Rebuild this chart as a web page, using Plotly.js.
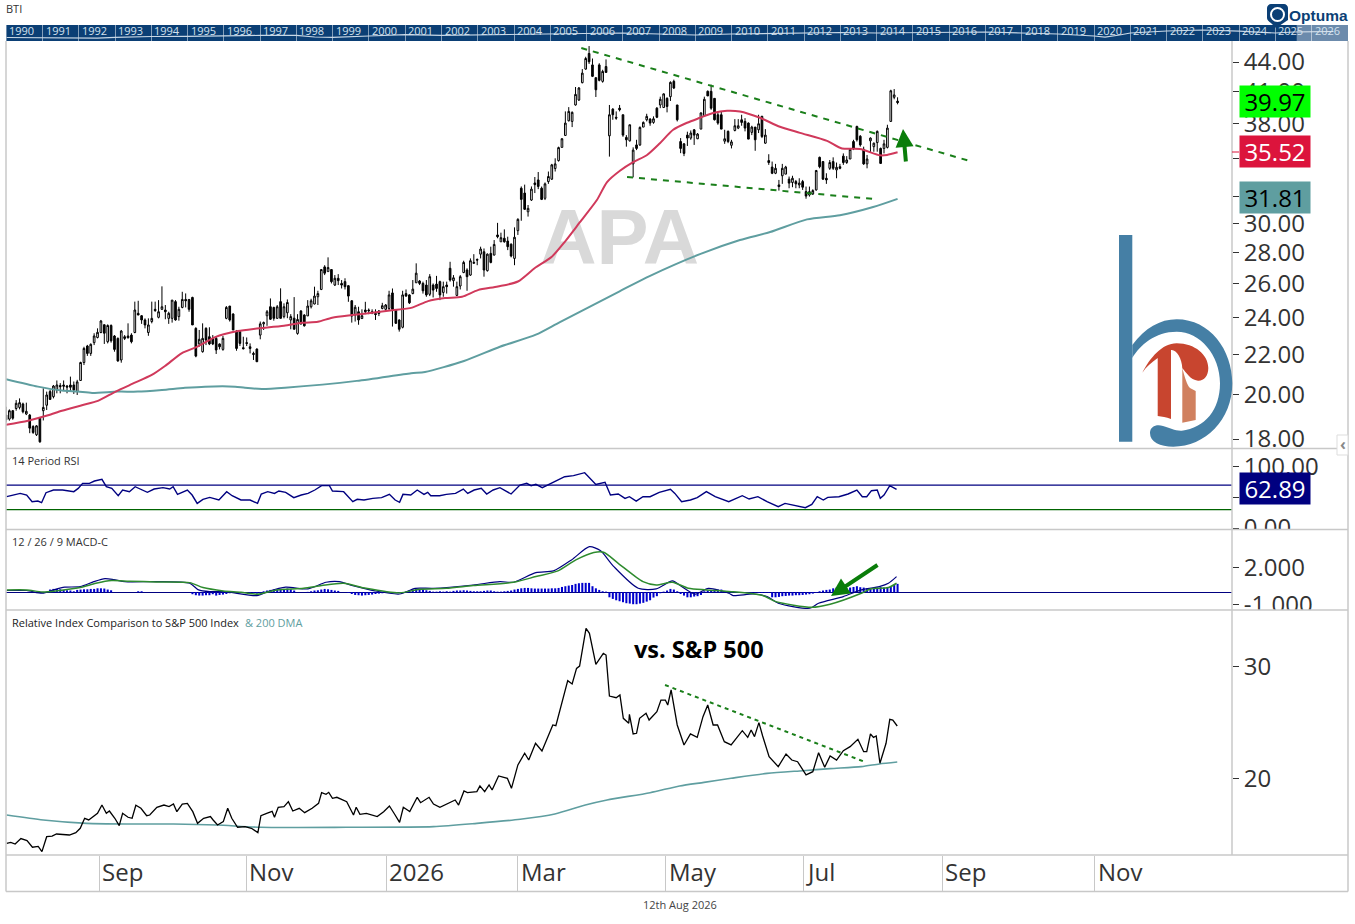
<!DOCTYPE html>
<html>
<head>
<meta charset="utf-8">
<script src="https://cdn.plot.ly/plotly-3.0.1.min.js"></script>
<style>body { margin: 0; background: #fff; }</style>
</head>
<body>
<div id="myPlot" style="width:1355px;height:924px"></div>
<script>
const W = 1355, H = 924;

// daily bars, oldest first
const highs = [
19.43,19.31,19.28,19.74,19.82,19.62,19.62,19.1,18.6,18.6,
18.95,20.3,20.14,20.22,20.46,20.68,20.55,20.68,20.46,20.87,
20.63,20.71,21.62,22.4,22.5,22.58,23.13,23.4,23.87,23.62,
23.62,23.62,23.03,22.9,23.31,23.03,23.68,23.13,24.93,24.98,
24.15,23.96,23.96,24.93,24.93,25.02,25.85,24.73,24.34,25.02,
25.02,24.63,25.52,25.42,25.06,25.22,23.46,23.31,23.68,23.46,
23.46,23.03,22.94,22.58,22.98,24.67,24.67,24.25,23.31,23.22,
22.94,22.9,22.58,22.14,22.31,23.78,23.78,24.44,25.12,24.63,
24.73,25.73,24.83,25.06,24.2,25.2,24.2,24.44,24.2,25.02,
25.1,25.83,25.58,26.92,27.18,27.69,26.92,26.55,26.61,26.24,
26.35,25.93,25.02,24.73,24.63,24.48,24.92,24.53,24.48,24.48,
24.44,24.86,24.79,25.58,25.72,24.48,23.9,25.58,25.66,25.37,
26.24,27.3,26.24,26.14,26.24,26.61,26.03,26.5,26.2,26.14,
26.14,27.4,26.55,26.14,26.55,27.47,26.98,27.62,27.9,27.62,
28.4,28.28,27.95,28.4,28.85,30.05,29.36,29.59,29.08,28.62,
29.73,30.38,32.76,32.9,31.35,32.76,33.5,33.9,32.75,33.07,
33.94,34.56,35.02,36.0,36.74,39.14,39.54,39.14,41.47,41.47,
43.27,44.55,45.7,44.37,42.4,43.87,43.2,44.27,39.74,39.44,
39.14,39.74,38.83,37.0,37.92,35.94,36.59,37.77,38.22,38.92,
38.52,38.68,39.54,40.53,40.85,40.47,42.03,42.2,39.74,36.74,
36.3,37.3,37.41,37.53,37.18,39.05,40.53,41.13,41.7,40.37,
39.14,39.14,37.47,37.41,36.59,38.43,38.43,38.83,38.52,38.13,
37.83,37.71,38.83,38.74,37.53,35.36,34.75,34.56,33.27,34.56,
34.4,33.54,33.6,33.27,33.4,33.27,32.75,32.75,32.54,34.07,
35.16,34.75,33.8,34.88,35.1,34.67,34.56,35.43,35.2,35.85,
36.59,37.83,37.0,36.0,35.3,36.8,36.35,37.41,35.92,36.59,
37.92,41.2,41.27,40.47];
const lows = [
18.72,18.8,18.84,19.25,19.31,19.13,19.05,18.25,18.22,18.13,
17.84,18.81,19.28,19.77,19.82,20.06,20.06,20.19,20.06,20.14,
20.03,19.98,20.68,21.45,21.92,21.92,22.49,22.85,23.13,22.55,
22.58,22.62,22.14,21.62,21.57,22.76,22.85,22.58,23.13,24.15,
23.65,23.4,22.99,23.68,24.34,23.96,24.44,23.91,23.65,23.72,
23.83,23.83,24.54,24.59,24.34,23.59,21.85,22.4,22.09,22.49,
22.49,22.49,22.02,22.26,22.19,23.91,23.78,23.31,22.19,22.44,
22.26,22.44,22.05,21.71,21.62,22.8,23.31,23.54,23.87,23.83,
23.96,23.96,23.96,23.97,23.35,23.35,23.05,23.6,23.5,24.1,
24.53,24.77,24.73,25.62,26.55,26.77,26.03,25.87,25.93,25.72,
25.66,24.92,23.72,23.78,23.6,23.93,24.2,24.2,24.2,23.87,
24.09,24.48,24.34,24.44,23.5,23.65,23.22,23.4,25.22,24.79,
25.37,26.07,25.93,25.41,25.22,25.26,25.18,25.52,25.02,25.22,
25.41,26.14,25.83,25.26,25.66,26.67,25.58,26.5,27.27,27.18,
27.62,26.45,26.77,27.3,27.82,28.97,28.73,28.67,28.17,27.69,
27.18,29.2,30.2,30.98,30.5,31.65,32.25,32.55,31.72,31.72,
32.96,33.27,33.94,34.75,35.92,36.94,38.22,37.71,39.68,40.12,
41.83,43.2,43.8,42.46,40.5,42.03,41.9,42.93,35.16,38.37,
38.37,39.14,36.85,36.0,36.44,33.47,35.71,36.06,37.71,38.22,
37.83,38.01,38.52,39.44,39.5,39.05,40.12,41.27,38.22,35.45,
35.2,36.06,36.59,36.15,36.65,37.53,38.74,40.6,39.29,38.31,
37.92,37.53,36.24,36.3,35.85,37.33,37.53,37.83,37.33,36.65,
37.0,35.65,37.18,36.74,36.24,34.48,33.73,33.73,32.44,32.96,
33.73,32.62,32.7,32.62,32.62,32.49,31.82,31.98,32.1,32.44,
34.2,33.27,32.96,34.07,34.07,33.4,34.12,34.48,34.56,34.96,
35.71,36.44,36.0,34.48,34.2,35.49,35.57,35.57,34.56,35.43,
35.85,38.22,40.28,39.8];
const opens = [
19.05,18.87,19.25,19.35,19.4,19.56,19.1,19.05,18.54,18.18,
18.91,19.25,19.5,20.14,19.9,20.22,20.43,20.46,20.41,20.46,
20.46,20.14,20.68,21.58,22.44,22.05,22.62,22.9,23.17,23.6,
22.67,23.56,22.98,22.85,21.71,22.94,22.98,23.03,23.17,24.25,
24.11,23.87,23.17,23.78,24.48,24.02,24.48,24.44,23.96,23.96,
24.93,24.06,24.59,25.06,25.06,25.18,23.4,22.55,22.14,23.4,
22.94,22.85,22.85,22.55,22.26,23.96,24.67,24.21,23.22,23.22,
22.35,22.62,22.4,22.05,22.28,23.03,23.65,24.11,24.63,24.59,
23.96,24.93,24.06,24.28,23.87,23.97,23.12,24.38,24.15,24.1,
24.63,24.79,25.22,25.66,27.07,26.77,26.9,25.93,26.35,26.03,
26.14,25.89,24.98,24.15,24.34,23.95,24.44,24.44,24.34,24.24,
24.38,24.53,24.48,24.53,25.45,24.44,23.87,23.46,25.41,25.33,
25.41,26.07,26.18,26.03,25.93,25.37,25.93,25.99,26.14,25.48,
25.93,26.98,26.2,25.3,25.87,26.71,26.87,26.55,27.3,27.55,
27.9,28.06,26.83,27.95,27.84,29.2,28.73,28.97,28.78,28.57,
27.62,29.5,32.62,32.25,30.85,31.72,33.03,33.27,32.62,31.85,
33.14,33.33,34.18,34.83,35.94,36.97,38.28,38.22,39.74,40.21,
41.9,43.27,44.9,43.7,42.4,43.7,42.03,43.53,36.94,39.35,
38.6,39.44,38.83,36.8,36.5,34.56,36.15,36.15,37.71,38.37,
38.43,38.13,39.44,39.74,39.5,40.37,40.53,42.03,39.74,36.44,
36.24,37.0,36.74,37.47,36.68,37.53,38.74,41.05,41.05,40.37,
38.83,38.83,36.47,37.33,36.12,37.41,37.62,38.37,38.22,38.07,
37.24,37.71,37.47,38.68,36.3,34.83,34.3,33.8,32.88,33.6,
33.73,33.33,33.07,33.14,32.88,33.14,32.36,32.1,32.18,32.49,
35.1,34.75,33.4,34.2,34.75,34.07,34.33,35.2,34.67,34.96,
36.44,37.77,36.9,35.77,34.56,36.5,36.0,36.35,35.85,35.85,
35.94,38.22,40.47,40.1];
const closes = [
18.84,19.25,18.91,19.59,19.62,19.2,19.22,18.47,18.28,18.57,
17.88,19.4,19.98,19.77,20.41,20.46,20.38,20.4,20.36,20.35,
20.22,20.61,21.58,22.31,22.05,22.53,22.98,23.18,23.81,23.13,
23.56,22.72,22.26,21.66,23.25,22.85,22.88,22.67,24.44,24.15,
23.87,23.59,23.59,23.96,24.4,24.34,24.63,24.34,24.25,25.02,
23.87,24.48,25.06,24.98,24.48,23.59,21.91,22.8,22.85,22.76,
22.55,22.55,22.23,22.4,22.85,24.59,23.87,23.31,22.31,22.58,
22.3,22.58,22.31,22.0,21.62,23.65,23.72,24.34,23.91,23.96,
24.63,23.96,24.63,24.88,24.06,23.35,23.9,23.65,23.54,24.67,
24.98,25.26,25.41,26.9,26.67,27.03,26.14,26.35,26.2,25.93,
25.83,25.26,24.09,24.6,23.87,24.11,24.34,24.4,24.28,24.18,
24.24,24.69,24.73,25.33,24.48,23.68,23.35,25.33,25.26,24.86,
25.68,26.67,26.03,25.58,25.33,26.45,25.62,25.72,25.33,25.83,
25.83,26.24,26.38,25.83,26.45,27.36,26.45,27.47,27.36,27.51,
28.24,26.87,27.9,27.36,28.55,29.08,29.01,28.73,28.4,27.78,
29.04,30.3,31.77,31.03,31.1,32.55,32.9,32.76,31.77,32.96,
33.54,34.48,34.56,35.92,36.68,38.07,39.14,39.05,40.75,41.37,
42.86,44.37,44.03,42.53,41.2,42.13,43.03,42.93,38.83,38.83,
38.52,39.29,37.0,36.59,37.92,35.71,35.85,37.68,38.13,38.68,
38.07,38.46,38.6,40.28,40.8,39.6,41.93,41.37,38.37,35.85,
35.43,36.74,37.18,37.0,37.09,39.0,40.28,40.6,39.44,38.37,
38.07,37.53,36.68,36.44,36.41,37.83,37.83,38.13,37.62,36.65,
37.71,36.59,38.01,36.88,37.0,34.67,33.8,34.2,32.75,34.2,
34.3,33.02,33.4,32.96,33.02,32.7,32.02,32.36,32.44,34.02,
34.33,33.33,33.27,34.67,34.2,34.28,34.2,34.67,34.88,35.77,
35.85,36.59,36.15,34.56,34.96,36.74,36.3,37.33,34.6,36.24,
37.62,41.1,40.7,39.97];

// moving averages on price (bar number, value)
const ma50Bars = [0,6.5,12.4,16.5,22.4,27.1,32.2,37.2,43,46.9,51.9,56.3,61.7,68.4,73.5,82,87.3,92,96.2,102.1,108,113.9,119.8,124.5,129.5,134.5,139.2,145.1,151,156,161,164.9,169.3,174.3,177.3,181.1,185,189.1,192.9,196.8,200.9,204.7,208.6,212.7,216.5,222.4,228.3,234.2,242.2,246.6,251.9,257.8,259.9,263];
const ma50Vals = [18.62,18.8,19.04,19.25,19.5,19.7,20.13,20.51,20.95,21.4,22.07,22.39,22.92,23.25,23.38,23.54,23.71,23.77,24.0,24.15,24.28,24.42,24.58,24.96,25.14,25.22,25.62,25.84,26.15,27.0,27.73,28.75,30.1,31.72,33.1,34.0,34.7,35.3,36.3,37.47,38.1,38.55,39.0,39.2,39.13,38.55,37.74,37.2,36.5,35.85,35.8,35.27,35.3,35.52];
const ma200Bars = [0,9.4,16.5,21.2,25.4,33,38.9,46,52.8,58.7,67.6,70.5,75.5,82.3,103.5,119.5,123.6,135.1,145.7,156.3,163.4,181,190,204.7,216.5,225.4,236.3,246,255.8,263];
const ma200Vals = [20.74,20.38,20.19,20.14,20.08,20.14,20.14,20.22,20.32,20.38,20.38,20.32,20.27,20.33,20.66,21.04,21.1,21.66,22.4,23.05,23.75,25.55,26.5,27.9,28.85,29.4,30.3,30.6,31.2,31.81];

// trend lines drawn on the chart
const priceTopBars = [169.7,284.4], priceTopVals = [45.49,34.79];
const priceLowBars = [183.2,255.9], priceLowVals = [33.5,31.8];
const relTopBars = [194.4,253.5], relTopVals = [28.37,21.5];

// 14 period RSI
const rsiBars = [0.2,2.2,4.2,6.1,7.7,9.4,10.5,11.8,14,16.7,20,21.3,22.6,24.6,26.1,28.3,29.6,31.2,33.1,34.4,36.4,38.1,40.4,41.7,43.7,46.3,48.3,49.3,50.6,53.5,54.9,56.4,58.1,60.1,62.8,65.1,66.7,69.3,72,74.2,75.3,77.2,79.2,80.5,82.5,84.9,87.1,89.1,91.1,93.1,95.4,96.3,99.6,102.3,103.6,105.6,108.2,110.8,113.1,114.8,116.1,117.1,119.4,121.3,123.3,124.4,125.3,127.9,129.9,132.6,134.9,136.2,138.1,140.2,141.8,143.7,145.7,149,151.6,153.6,154.9,156.3,158.2,161.5,164.8,167.4,170.7,174,176.7,178.3,180.6,182.6,183.9,185.9,187.9,190,192.7,196,197.3,199.3,201.9,203.9,206.6,209.2,213.2,217.2,219.2,221.8,224.5,227.8,229.8,235.8,237.7,239.3,241.1,242.4,245.7,248.4,251,252.6,253.9,255.3,257,257.9,259,260.7,262.7];
const rsiVals = [51.1,53.8,56.5,53.8,43,44,41.3,57.6,62,62,59.3,64.7,72.9,72.9,76.7,79.4,67.4,64.7,52.7,62,59.3,67.4,62,58.2,63.6,65.8,63.6,67.4,54.9,62,53.8,40.2,46.8,50,45.7,59.3,52.7,45.7,45.7,40.2,55.5,59.3,56.5,60.4,58.2,49.5,53.8,56.5,62,69.1,69.1,60.4,59.3,43,46.8,45.7,48.4,49.5,54.9,45.7,41.9,54.9,53.8,62,54.9,58.2,52.7,52.7,54.9,56.5,63.6,56.5,62,64.7,55.5,62,65.8,55.5,70.1,72.9,69.1,71.2,65.8,74.5,83.7,85.4,90.3,71.2,74.5,53.8,55.5,48.4,51.1,44,51.1,51.1,58.2,63.1,56.5,43,45.7,49.5,59.3,51.1,43,52.7,47.3,51.1,43,34.8,40.2,33.2,38.6,51.1,45.7,50,51.1,55.5,62,51.1,51.1,60.9,62,48.4,53.8,69.1,62.89];

// 12 / 26 / 9 MACD
const macdBars = [0.2,6.1,10.7,14,17.3,21.9,25.9,29.2,31.8,35.1,44.3,54.2,56.8,60.1,64.7,74,77.2,82.5,89.1,94.4,98.3,102.3,108.8,116.1,120.7,126,137.8,145.7,149.7,156.3,161.5,166.8,172.1,175.3,179.3,186.5,191.8,196.6,199.3,203.3,207.2,213.2,214.5,220.5,224.5,227.8,237.1,239.7,247,252.3,257.6,260.3,262.7];
const macdVals = [0.14,0.14,-0.08,0.19,0.41,0.46,0.86,1.11,1.03,0.86,0.86,0.73,0.19,0.05,0.05,-0.27,0.05,0.41,0.27,0.81,0.86,0.54,0.11,-0.14,0.32,0.32,0.59,0.86,0.81,1.59,1.73,2.62,3.7,3.38,2.08,0.32,0.27,0.92,0.46,-0.16,0.32,-0.08,-0.27,-0.14,-0.35,-0.89,-1.3,-0.89,-0.35,0.19,0.46,0.73,1.27];
const signalBars = [0.2,6.1,10.7,14.7,21.9,26.5,31.2,36.4,44.3,54.2,58.1,64.1,69.3,74,79.9,87.8,93.1,99.6,106.2,116.1,122,129.9,137.8,149.7,156.3,162.8,168.1,173.4,176.3,180.6,187.9,191.8,196.6,201.3,206.6,213.9,223.2,227.1,237.7,243.1,252.3,255,260.3,262.7];
const signalVals = [0.19,0.19,0.03,0.11,0.38,0.73,0.95,0.89,0.84,0.78,0.38,0.11,0,-0.16,0.19,0.32,0.54,0.73,0.32,-0.05,0.24,0.32,0.54,0.81,1.27,1.73,2.62,3.22,3.24,2.35,0.86,0.59,0.81,0.32,0.19,0.05,-0.27,-0.76,-1.22,-0.97,-0.08,0.27,0.38,0.73];
const histVals = [
0,0,0,0,0,0,0,0,0,0,0,0,0,
0.22,0.27,0.27,0.24,0.19,0.16,0.14,0.08,0.19,0.22,0.24,0.24,0.27,0.27,0.32,0.32,0.3,0.22,0.16,
0,0,0,0,0,0,0,0.08,0.08,
0,0,0,0,0,0,0,0,0,0,0,0,0,0,
-0.16,-0.24,-0.27,-0.27,-0.24,-0.24,-0.16,-0.27,-0.22,-0.19,-0.14,-0.08,
0,0,0,0,0,-0.05,-0.08,-0.11,-0.05,
0.08,0.14,0.19,0.22,0.24,0.27,0.27,0.3,0.24,0.14,
0,0,0,0.03,0.08,0.14,0.16,0.22,0.27,0.24,0.19,0.14,0.11,
0,0,-0.05,-0.14,-0.22,-0.24,-0.27,-0.24,-0.22,-0.19,-0.14,-0.11,-0.08,-0.05,-0.05,-0.03,
-0.05,-0.05,0,0.05,0.14,0.22,0.27,0.24,0.22,0.16,0.11,0.05,
0.05,0.08,0.05,0.08,0.05,0.11,0.14,0.14,0.16,0.14,0.11,0.08,0.08,0.08,0.11,0.14,0.14,0.08,0.05,
0.05,0.08,0.11,0.14,0.22,0.27,0.32,0.35,0.35,0.32,0.3,0.3,0.3,0.3,0.3,0.32,0.32,0.35,
0.43,0.49,0.54,0.59,0.68,0.73,0.76,0.76,0.76,0.49,0.32,0.19,0.08,0.05,
-0.41,-0.54,-0.65,-0.73,-0.81,-0.89,-0.92,-0.97,-0.97,-0.92,-0.86,-0.76,-0.65,-0.43,-0.32,
-0.08,0.05,0.14,0.27,0.22,0.08,
-0.14,-0.27,-0.41,-0.41,-0.35,-0.32,-0.22,
0.08,0.14,0.16,0.22,0.22,0.22,0.11,0.05,0.03,
-0.03,-0.03,-0.03,-0.05,-0.05,-0.03,-0.03,-0.05,-0.05,-0.05,-0.05,
-0.41,-0.41,-0.38,-0.32,-0.3,-0.27,-0.27,-0.24,-0.24,-0.22,-0.19,-0.16,-0.11,-0.05,
0.08,0.14,0.19,0.22,0.32,0.38,0.38,0.38,0.32,0.38,0.43,0.49,0.41,0.38,0.32,0.27,0.32,0.38,0.41,0.38,0.43,0.49,0.59,0.68];

// relative comparison to S&P 500
const relBars = [0.2,1.4,2.7,4.4,6.2,7.8,9.5,10.6,12,13.6,14.9,18.7,20.6,21.9,23.2,24.4,27,28.3,29.6,30.5,32.1,33.4,34.4,36,37.2,38.3,39.8,41.5,42.4,44.5,46.6,48.1,49.4,50.4,52,53.5,55.1,56.5,58.3,60.3,61.1,62.4,64.1,65.4,66.6,68.3,70.5,72.4,74.3,75.2,76.9,78.5,79.2,80.3,82,83.3,84.6,86.5,88.1,90.3,92.2,93.1,94.4,95.2,96.3,97.6,100.5,102.5,103.3,104.4,106.3,109.5,111.4,113.1,114.6,116.1,117.2,119.1,121.3,122.3,124.8,126.1,128,130,132.5,133.5,135.1,136.1,138.9,139.8,141.2,142.5,143.4,145.3,147.9,149.1,151,153,154.2,156.2,158.1,161.3,162.2,165.7,167,168.3,169.2,171.1,172.1,174,176.2,177,178,180,181.1,182.1,183.7,183.9,185,186,186.9,188.8,189.7,192,193.2,194.5,195.2,196.2,198,200,201.9,203.9,205.6,207,208.6,209.9,211.9,213.9,215.9,217.2,218.8,219.8,220.8,222.1,223.2,225.1,227.8,230.1,231.8,233.5,236,238,239.7,241.5,243.1,245,247,249,251.3,253,253.9,255,255.9,256.7,257.8,259.6,260.7,261.6,262.9];
const relVals = [14.27,14.36,14.21,14.69,14.51,13.92,14,13.53,14.86,14.92,15.1,15.01,15.22,15.61,16.5,16.35,16.94,17.68,16.94,17.15,16.5,15.84,16.94,16.59,16.5,17.66,17.39,16.73,16.79,17.48,17.68,17.54,17.77,17.09,17.77,17.83,17.09,16.05,16.5,16.65,16.35,15.9,16.2,17.39,16.5,15.7,15.76,15.61,15.22,16.73,16.94,17.12,16.59,17.48,17.54,17.98,17.15,17.39,17,17.39,17.83,18.78,18.63,18.81,18.28,18.37,17.98,16.79,17.48,16.85,16.94,16.65,17.09,17.6,16.88,16.14,17.48,17.09,18.37,17.89,18.37,17.77,17.48,17.77,18.13,17.68,18.93,18.78,18.87,19.38,18.87,19.47,19.02,20.27,20.06,19.17,21.25,22.29,21.69,23.18,22.49,24.81,24.75,28.76,28.46,29.85,30.06,33.42,32.97,30.21,31.19,31.04,27.39,27.24,27.48,25.4,24.96,25.76,24.01,24.07,25.4,25.85,25.25,26,27.03,27.03,26.59,27.93,24.81,23.03,24.01,23.71,25.55,26.59,24.81,24.81,23.32,23.03,23.83,24.3,23.71,24.36,23.77,25.02,23.83,21.99,21.1,22.23,21.69,21.54,20.36,20.65,22.34,21.04,22.05,21.69,22.52,22.88,23.53,22.43,22.43,24.01,23.71,23.83,21.4,23.18,25.31,25.25,24.72];
const relMaBars = [0.2,11,23.8,36.6,49.4,62.2,75,100.5,126.1,138.9,151.7,161.9,170.9,177.3,190,198.7,205.9,213.9,224.5,235.1,243.1,252.3,257.6,262.9];
const relMaVals = [16.79,16.35,16.05,15.99,15.99,15.9,15.7,15.7,15.76,16.05,16.41,16.88,17.68,18.13,18.78,19.38,19.7,20.06,20.5,20.74,20.92,21.1,21.34,21.51];

// long history strip along the top
const stripYears = [1990,1991,1992,1993,1994,1995,1996,1997,1998,1999,2000,2001,2002,2003,2004,2005,2006,2007,2008,2009,2010,2011,2012,2013,2014,2015,2016,2017,2018,2019,2020,2021,2022,2023,2024,2025,2026];
const historyYears = [1990,1991,1992,1992.5,1993,1994,1995,1996,1996.5,1997,1998,1998.5,1999,2000,2001,2002,2003,2004,2005,2006,2007,2008,2009,2010,2011,2012,2013,2014,2015,2016,2017,2018,2019,2020,2020.3,2020.7,2021,2022,2023,2024,2025,2025.5,2026,2026.6];
const historyVals = [3.5,3.2,3.5,2.8,3.6,4.5,4.6,4.7,5.3,5.6,5.6,4,3.6,5,6.4,5.6,6,7,7.5,7.8,8,7,6,7,7.5,8,8.5,8,8.5,8.5,9,8,7,5,3.8,6,8,10,11,9.8,8,9,9.5,9.5];

// axis ticks, the labels left blank sit behind the value boxes
const priceTicks = [44,41,38,35,32,30,28,26,24,22,20,18];
const priceLabels = ['44.00','41.00','38.00','','','30.00','28.00','26.00','24.00','22.00','20.00','18.00'];
const rsiTicks = [100,50,0];
const rsiLabels = ['100.00','','0.00'];
const macdTicks = [2,-1];
const macdLabels = ['2.000','-1.000'];
const relTicks = [30,20];
const relLabels = ['30','20'];
const monthBars = [27.5,70.9,112.1,151,194.6,235.2,276.2,321.2];
const monthLabels = ['Sep','Nov','2026','Mar','May','Jul','Sep','Nov'];

// last values shown in the coloured boxes
const lastPrice = 39.97, lastMa50 = 35.52, lastMa200 = 31.81, lastRsi = 62.89;

const barNumbers = closes.map((c, i) => i);
const xRange = [0, 361.65];

// pixel helpers for the page furniture
const fx = x => x / W;
const fy = y => 1 - y / H;
const dom = (top, bottom) => [fy(bottom), fy(top)];
const GREEN = '#1a7f1a', TEAL = '#5f9ea0', RED = '#d0395b', NAVY = '#000080', FRAME = '#c8c8c8', INK = '#333333';
const FONT = '"Open Sans", sans-serif';

function lineTrace(x, y, xa, ya, color, width, dash, smooth) {
    const line = {color: color, width: width, dash: dash || 'solid'};
    if (smooth) { line.shape = 'spline'; line.smoothing = 0.7; }
    return {type: 'scatter', mode: 'lines', x: x, y: y, xaxis: xa, yaxis: ya, line: line, hoverinfo: 'skip'};
}

const traces = [
    {type: 'scatter', mode: 'text', x: [181], y: [28.57], text: ['APA'], xaxis: 'x', yaxis: 'y',
        textfont: {family: '"Liberation Sans", Arial, sans-serif', size: 78, color: '#d9d9d9', weight: 700},
        textposition: 'middle center', hoverinfo: 'skip'},
    {type: 'candlestick', x: barNumbers, open: opens, high: highs, low: lows, close: closes,
        xaxis: 'x', yaxis: 'y', whiskerwidth: 0,
        increasing: {line: {color: '#000000', width: 1}, fillcolor: '#ffffff'},
        decreasing: {line: {color: '#000000', width: 1}, fillcolor: '#000000'},
        hoverinfo: 'skip'},
    lineTrace(ma200Bars, ma200Vals, 'x', 'y', TEAL, 2, null, true),
    lineTrace(ma50Bars, ma50Vals, 'x', 'y', RED, 2, null, true),
    lineTrace(priceTopBars, priceTopVals, 'x', 'y', GREEN, 2, '6px,6px'),
    lineTrace(priceLowBars, priceLowVals, 'x', 'y', GREEN, 2, '6px,6px'),
    lineTrace(rsiBars, rsiVals, 'x2', 'y2', NAVY, 1.4),
    {type: 'bar', x: barNumbers, y: histVals, xaxis: 'x3', yaxis: 'y3', width: 0.6,
        marker: {color: '#0000cd', line: {width: 0}}, hoverinfo: 'skip'},
    lineTrace(macdBars, macdVals, 'x3', 'y3', NAVY, 1.2, null, true),
    lineTrace(signalBars, signalVals, 'x3', 'y3', '#2e8b2e', 1.5, null, true),
    lineTrace(relMaBars, relMaVals, 'x4', 'y4', TEAL, 1.6, null, true),
    lineTrace(relBars, relVals, 'x4', 'y4', '#000000', 1.3),
    lineTrace(relTopBars, relTopVals, 'x4', 'y4', GREEN, 2, '4px,4px'),
    lineTrace(historyYears, historyVals, 'x5', 'y5', '#c9d8e6', 1.2)
];

function plainX(extra) {
    return Object.assign({domain: [fx(6), fx(1232)], range: xRange, showgrid: false, zeroline: false,
        showticklabels: false, ticks: '', fixedrange: true}, extra);
}
function rightY(top, bottom, range, vals, labels, extra) {
    return Object.assign({domain: dom(top, bottom), range: range, side: 'right', showgrid: false, zeroline: false,
        tickmode: 'array', tickvals: vals, ticktext: labels, ticks: 'outside', ticklen: 6, tickcolor: INK,
        tickfont: {family: FONT, size: 24, color: INK}, fixedrange: true}, extra);
}

const layout = {
    width: W, height: H, margin: {l: 0, r: 0, t: 0, b: 0},
    paper_bgcolor: '#ffffff', plot_bgcolor: 'rgba(0,0,0,0)',
    showlegend: false, hovermode: false, barmode: 'overlay',
    xaxis: plainX({anchor: 'y', rangeslider: {visible: false}}),
    xaxis2: plainX({anchor: 'y2'}),
    xaxis3: plainX({anchor: 'y3'}),
    xaxis4: plainX({anchor: 'y4', tickmode: 'array', tickvals: monthBars, ticks: 'outside', ticklen: 36,
        tickcolor: FRAME, tickwidth: 1}),
    xaxis5: {anchor: 'y5', domain: [fx(6.4), fx(1348)], range: [1990, 2027], tickmode: 'array', tickvals: stripYears,
        showticklabels: false, ticks: '', showgrid: true, gridcolor: 'rgba(255,255,255,0.5)', gridwidth: 1, zeroline: false, fixedrange: true},
    yaxis: rightY(41, 448, [Math.log10(17.62), Math.log10(46.25)], priceTicks, priceLabels, {type: 'log', anchor: 'x'}),
    yaxis2: rightY(449, 529, [-1.6, 128.9], rsiTicks, rsiLabels, {anchor: 'x2'}),
    yaxis3: rightY(530, 610, [-1.44, 5.05], macdTicks, macdLabels, {anchor: 'x3', zeroline: true, zerolinecolor: NAVY, zerolinewidth: 1.2}),
    yaxis4: rightY(610, 855, [13.23, 35.05], relTicks, relLabels, {anchor: 'x4'}),
    yaxis5: {anchor: 'x5', domain: dom(25, 41), range: [0, 16], visible: false, fixedrange: true},
    shapes: [],
    annotations: []
};

// shape helpers
function rect(x0, y0, x1, y1, fill, opts) {
    return Object.assign({type: 'rect', xref: 'paper', yref: 'paper', x0: fx(x0), x1: fx(x1), y0: fy(y0), y1: fy(y1),
        fillcolor: fill, line: {width: 0}, layer: 'above'}, opts);
}
function seg(x0, y0, x1, y1, color, width) {
    return {type: 'line', xref: 'paper', yref: 'paper', x0: fx(x0), x1: fx(x1), y0: fy(y0), y1: fy(y1),
        line: {color: color, width: width || 1}, layer: 'above'};
}
// path given in page pixels, numbers alternate x,y
function pagePath(d, fill) {
    let isX = true;
    const p = d.replace(/-?\d+(\.\d+)?/g, m => {
        const v = isX ? fx(+m) : fy(+m);
        isX = !isX;
        return v.toFixed(6);
    });
    return {type: 'path', xref: 'paper', yref: 'paper', path: p, fillcolor: fill, line: {width: 0}, layer: 'above'};
}

layout.shapes.push(
    // year strip
    rect(6.4, 25, 1348, 41, '#0b3f75', {layer: 'below'}),
    rect(1296.7, 25, 1348, 41, 'rgba(255,255,255,0.4)'),
    // rsi levels
    {type: 'line', xref: 'x2 domain', yref: 'y2', x0: 0, x1: 1, y0: 70, y1: 70, line: {color: NAVY, width: 1.2}, layer: 'below'},
    {type: 'line', xref: 'x2 domain', yref: 'y2', x0: 0, x1: 1, y0: 30, y1: 30, line: {color: '#006400', width: 1.2}, layer: 'below'},
    // labels that run past the panel edge get cut off
    rect(1233, 529.5, 1347, 541, '#ffffff'),
    rect(1233, 610, 1347, 622, '#ffffff'),
    // frame
    seg(6, 41, 6, 891.5, FRAME, 1.5),
    seg(1348, 41, 1348, 891.5, FRAME, 1.5),
    seg(1232, 41, 1232, 855, FRAME, 1.5),
    seg(6, 448.5, 1348, 448.5, FRAME, 1.5),
    seg(6, 529.5, 1348, 529.5, FRAME, 1.5),
    seg(6, 610, 1348, 610, FRAME, 1.5),
    seg(6, 855, 1348, 855, FRAME, 1.5),
    seg(6, 891.5, 1348, 891.5, FRAME, 1.5),
    // small crimson marker next to the 50 day box
    seg(1232, 152, 1239, 152, '#dc143c', 1),
    // side tab
    rect(1337, 435, 1348, 455, '#ffffff', {line: {color: '#dddddd', width: 1}}),
    // logo, blue b
    rect(1119, 235, 1132.3, 441.7, '#457fa5'),
    pagePath('M 1132.3 345 C 1145 328 1160 319.3 1176.7 319.3 C 1210 319.3 1232.3 350 1232.3 383.3 C 1232.3 420 1205 446.7 1173.3 446.7 C 1160 446.7 1150 442 1150 433 C 1150 426 1157 424 1163 426 C 1170 428 1175 431 1181.7 430.7 C 1205 428 1220 410 1220 383.3 C 1220 355 1200 331.7 1176.7 331.7 C 1155 331.7 1140 345 1132.3 358 Z', '#457fa5'),
    pagePath('M 1142.3 372.7 C 1150 358 1162 343.3 1176.7 343.3 C 1195 343.3 1208.3 355 1208.3 368 C 1208.3 376 1204 381 1198 380.7 C 1190 380 1186 372 1182.3 368.3 C 1182 358 1176 349 1171 350 L 1171 419 C 1166 417 1162 416.7 1157.7 416 L 1157.7 358 C 1152 362 1146 367 1142.3 372.7 Z', '#c8452f'),
    pagePath('M 1182.3 368.3 C 1185 378 1187 385 1190 388 L 1195.7 391 L 1195.7 420 L 1182.3 422.7 Z', '#d0805f'),
    // optuma mark
    pagePath('M 1271 4 L 1284 4 C 1286 4 1288 6 1288 8 L 1288 20 L 1276 28 L 1271 23 C 1269 22 1267 20 1267 18 L 1267 8 C 1267 6 1269 4 1271 4 Z', '#0b3f75'),
    {type: 'circle', xref: 'paper', yref: 'paper', x0: fx(1271), x1: fx(1284), y0: fy(8), y1: fy(21), fillcolor: 'rgba(0,0,0,0)', line: {color: '#ffffff', width: 2}, layer: 'above'}
);

function label(text, x, y, size, color, opts) {
    return Object.assign({xref: 'paper', yref: 'paper', x: fx(x), y: fy(y), text: text, showarrow: false,
        xanchor: 'left', yanchor: 'middle', font: {family: FONT, size: size, color: color}}, opts);
}
function valueBox(val, yref, yval, fill, color) {
    return {xref: 'paper', yref: yref, x: fx(1239), y: yval, yshift: 1, text: val.toFixed(2), showarrow: false,
        xanchor: 'left', yanchor: 'middle', width: 70, height: 31, bgcolor: fill, borderpad: 0,
        font: {family: FONT, size: 24, color: color}};
}

layout.annotations.push(
    label('BTI', 4, 9, 11, '#333333'),
    label('14 Period RSI', 10, 460, 11, '#333333'),
    label('12 / 26 / 9 MACD-C', 10, 541, 11, '#333333'),
    label('Relative Index Comparison to S&P 500 Index', 10, 622, 11, '#222222'),
    label('& 200 DMA', 243, 622, 11, TEAL),
    label('<b>vs. S&P 500</b>', 632, 649, 23.5, '#000000'),
    label('12th Aug 2026', 680, 904, 11, '#444444', {xanchor: 'center'}),
    label('<b>Optuma</b>', 1287, 15, 16, '#0b3f75', {font: {family: '"Liberation Sans", Arial, sans-serif', size: 15.5, color: '#0b3f75'}}),
    label('<b>‹</b>', 1342.5, 444, 16, '#888888', {xanchor: 'center'}),
    valueBox(lastPrice, 'y', Math.log10(lastPrice), '#00ff00', '#000000'),
    valueBox(lastMa50, 'y', Math.log10(lastMa50), '#dc143c', '#ffffff'),
    valueBox(lastMa200, 'y', Math.log10(lastMa200), TEAL, '#000000'),
    valueBox(lastRsi, 'y2', lastRsi, NAVY, '#ffffff'),
    // green arrows
    {xref: 'paper', yref: 'paper', x: fx(903), y: fy(129), ax: 3, ay: 34, showarrow: true, arrowhead: 2, arrowsize: 0.9, arrowwidth: 4, arrowcolor: '#0a7d0a', text: ''},
    {xref: 'paper', yref: 'paper', x: fx(831), y: fy(596), ax: 48, ay: -32, showarrow: true, arrowhead: 2, arrowsize: 0.9, arrowwidth: 4, arrowcolor: '#0a7d0a', text: ''}
);

// month names sit just right of their divider
monthBars.forEach((b, i) => {
    layout.annotations.push({xref: 'x4', yref: 'paper', x: b, y: fy(871.5), text: monthLabels[i], showarrow: false,
        xanchor: 'left', yanchor: 'middle', xshift: 1, font: {family: FONT, size: 24, color: INK}});
});
// year names in the strip
stripYears.forEach(yr => {
    layout.annotations.push({xref: 'x5', yref: 'paper', x: yr, y: fy(30.5), text: String(yr), showarrow: false,
        xanchor: 'left', yanchor: 'middle', xshift: 1, font: {family: FONT, size: 11, color: '#d5e2ee'}});
});

Plotly.newPlot('myPlot', traces, layout, {staticPlot: true, displayModeBar: false});
</script>
</body>
</html>
